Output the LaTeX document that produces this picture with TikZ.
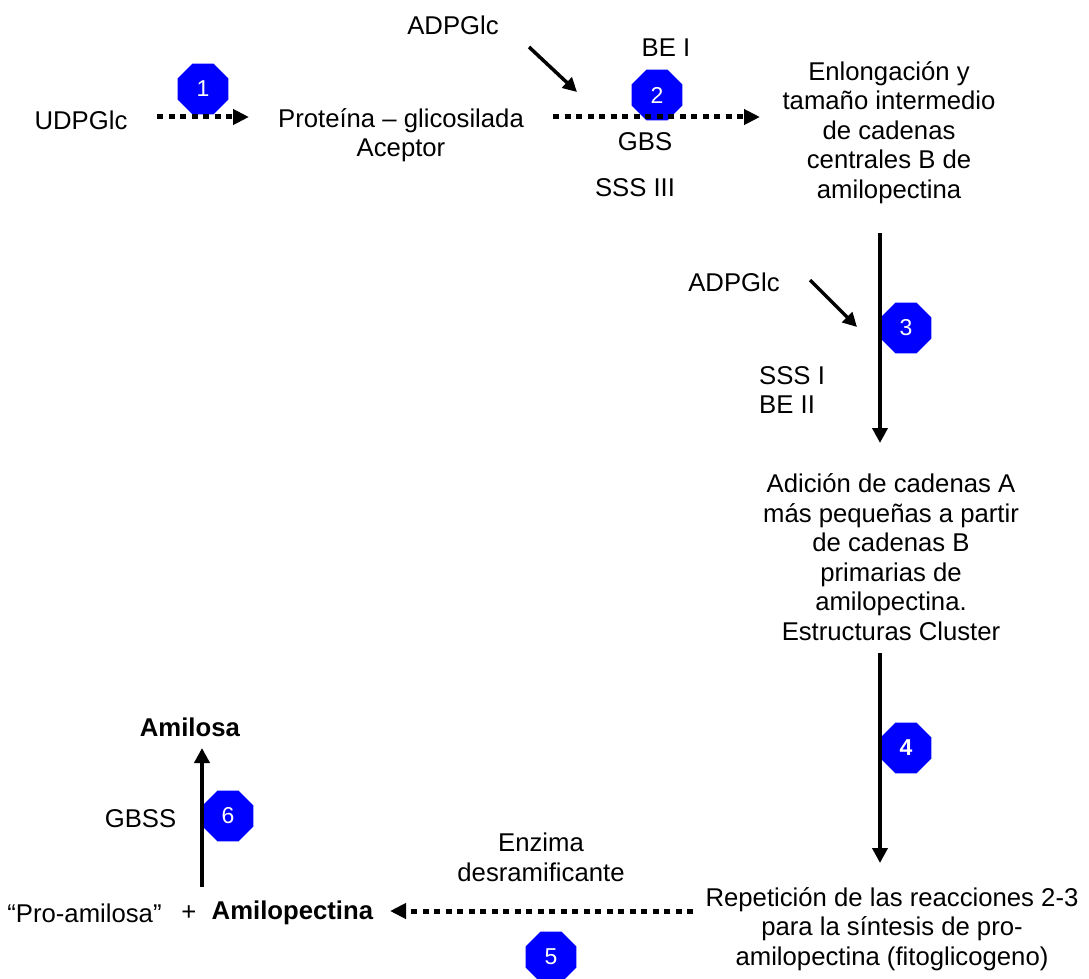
\documentclass[tikz,border=0pt]{standalone}
\usepackage{fontspec}
\setmainfont{Liberation Sans}
\usetikzlibrary{shapes.geometric,arrows.meta}
\definecolor{stepblue}{RGB}{0,0,255}
\begin{document}
\begin{tikzpicture}[x=1pt,y=-1pt,
  lbl/.style={inner sep=0pt, align=center, font=\fontsize{25.7}{29.5}\selectfont},
  badge/.style={regular polygon, regular polygon sides=8, minimum size=55pt,
    inner sep=0pt, fill=stepblue, text=white, font=\fontsize{23}{23}\selectfont},
  dotarrow/.style={line width=5pt, dash pattern=on 6pt off 5.5pt,
    -{Triangle[length=16pt,width=15pt]}},
  mainarrow/.style={line width=4pt, -{Triangle[length=15pt,width=15pt]}},
  feedarrow/.style={line width=3.5pt, -{Triangle[length=14pt,width=14pt]}}]
\useasboundingbox (0,0) rectangle (1089,979);

% reaction step badges
\node[badge] (b1) at (203,89) {1};
\node[badge] (b2) at (657,95) {2};
\node[badge] (b3) at (906,328) {3};
\node[badge] (b4) at (906,748) {\textbf{4}};
\node[badge] (b5) at (551,957) {5};
\node[badge] (b6) at (228,816) {6};

% compounds and intermediates
\node[lbl] (udp) at (81,120) {UDPGlc};
\node[lbl] (prot) at (401,135) {Proteína – glicosilada\\Aceptor};
\node[lbl] (adp1) at (453,25) {ADPGlc};
\node[lbl] (be1) at (666,48) {BE I};
\node[lbl] (gbs) at (645,142) {GBS};
\node[lbl] (sss3) at (635,188) {SSS III};
\node[lbl] (elong) at (889,132.5) {Enlongación y\\tamaño intermedio\\de cadenas\\centrales B de\\amilopectina};
\node[lbl] (adp2) at (734,282) {ADPGlc};
\node[lbl, anchor=west, align=left] (sss1) at (759,390) {SSS I\\BE II};
\node[lbl] (adic) at (891,557) {Adición de cadenas A\\más pequeñas a partir\\de cadenas B\\primarias de\\amilopectina.\\Estructuras Cluster};
\node[lbl] (rep) at (892,929) {Repetición de las reacciones 2-3\\para la síntesis de pro-\\amilopectina (fitoglicogeno)};
\node[lbl] (enz) at (541,857.5) {Enzima\\desramificante};
\node[lbl] (proam) at (84.5,913) {“Pro-amilosa”};
\node[lbl] (plus) at (189,913) {+};
\node[lbl] (amp) at (292.5,913) {\textbf{Amilopectina}};
\node[lbl] (gbss) at (140.5,819) {GBSS};
\node[lbl] (amy) at (190,727) {\textbf{Amilosa}};

% connector end points
\coordinate (a1s) at (157,117);
\coordinate (a1e) at (249,117);
\coordinate (a2s) at (553,117);
\coordinate (a2e) at (760,117);
\coordinate (d1s) at (529,47);
\coordinate (d1e) at (577,92);
\coordinate (a3s) at (880,233);
\coordinate (a3e) at (880,443);
\coordinate (d2s) at (810,280);
\coordinate (d2e) at (857,327);
\coordinate (a4s) at (880,653);
\coordinate (a4e) at (880,863);
\coordinate (a5s) at (693,911);
\coordinate (a5e) at (390,911);
\coordinate (a6s) at (202,887);
\coordinate (a6e) at (202,748);

% connectors
\draw[dotarrow] (a1s) -- (a1e);
\draw[dotarrow] (a2s) -- (a2e);
\draw[feedarrow] (d1s) -- (d1e);
\draw[mainarrow] (a3s) -- (a3e);
\draw[feedarrow] (d2s) -- (d2e);
\draw[mainarrow] (a4s) -- (a4e);
\draw[dotarrow] (a5s) -- (a5e);
\draw[mainarrow] (a6s) -- (a6e);
\end{tikzpicture}
\end{document}
